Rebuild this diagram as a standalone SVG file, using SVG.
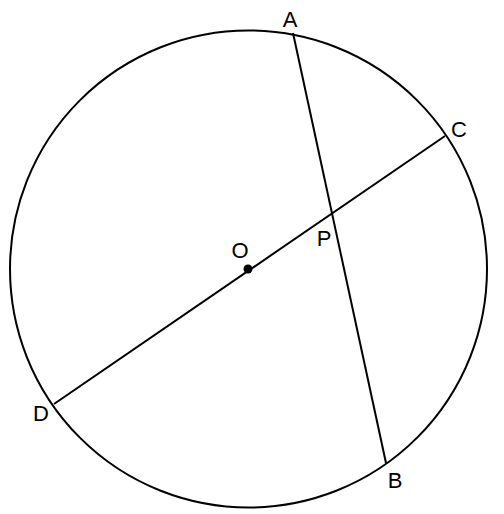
<svg xmlns="http://www.w3.org/2000/svg" width="504" height="514" viewBox="0 0 504 514">
<style>
.l{stroke:#000;stroke-width:2;fill:none}
text{font-family:"Liberation Sans",Arial,sans-serif;font-size:22px;fill:#000;text-anchor:middle}
</style>
<rect width="504" height="514" fill="#fff"/>
<g id="circle"><circle class="l" cx="248.5" cy="269" r="238.5"/></g>
<g id="connectors">
<line class="l" x1="293" y1="33" x2="386" y2="463"/>
<line class="l" x1="445" y1="136" x2="54" y2="404"/>
</g>
<g id="O"><circle cx="248" cy="269" r="4.5" fill="#000"/><text x="240" y="258">O</text></g>
<g id="A"><text x="290" y="27">A</text></g>
<g id="B"><text x="395" y="488">B</text></g>
<g id="C"><text x="459" y="137">C</text></g>
<g id="D"><text x="41" y="421">D</text></g>
<g id="P"><text x="324" y="246">P</text></g>
</svg>
